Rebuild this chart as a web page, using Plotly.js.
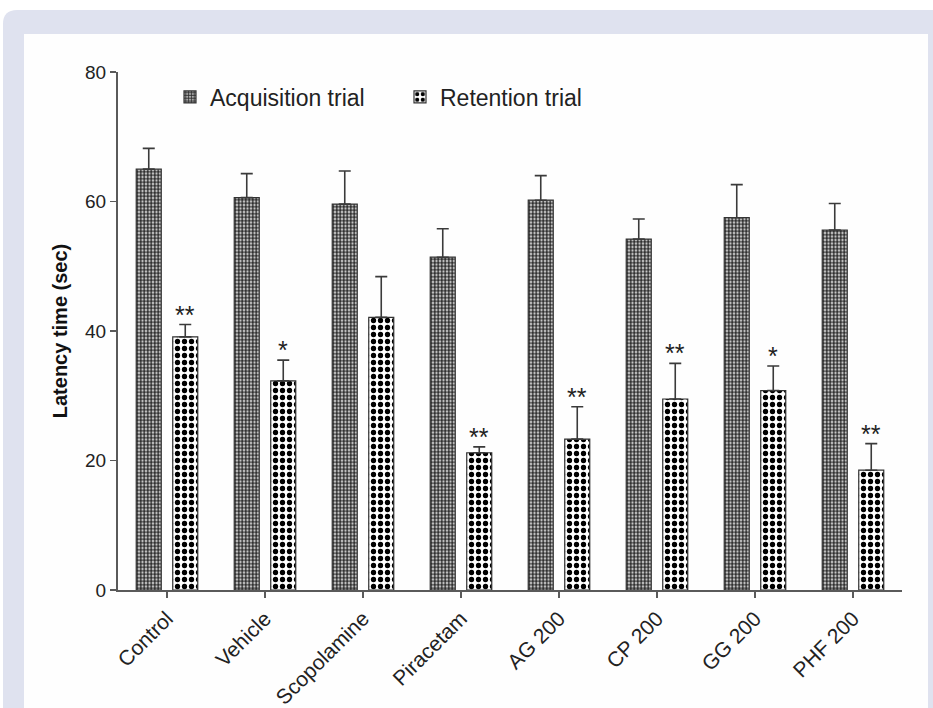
<!DOCTYPE html>
<html>
<head>
<meta charset="utf-8">
<script src="https://cdn.plot.ly/plotly-3.0.1.min.js"></script>
<style>html,body{margin:0;padding:0;background:#fff;}#chart{width:933px;height:708px;}</style>
</head>
<body>
<div id="chart"></div>
<script>
const categories = ["Control", "Vehicle", "Scopolamine", "Piracetam", "AG 200", "CP 200", "GG 200", "PHF 200"];
const acquisition = [65.0, 60.6, 59.6, 51.4, 60.2, 54.2, 57.5, 55.6];
const acquisitionSem = [3.2, 3.7, 5.1, 4.4, 3.8, 3.1, 5.1, 4.1];
const retention = [39.1, 32.3, 42.1, 21.2, 23.3, 29.5, 30.8, 18.5];
const retentionSem = [1.9, 3.2, 6.3, 0.9, 5.0, 5.5, 3.8, 4.1];
const significance = ["**", "*", "", "**", "**", "**", "*", "**"];
const yTicks = [0, 20, 40, 60, 80];

const W = 933, H = 708;
const L = 118, R = 31, T = 72, B = 118;
const pw = W - L - R, ph = H - T - B;
const px = v => (v - L) / pw;
const py = v => (H - B - v) / ph;

const errStyle = {type: 'data', symmetric: false, color: '#3a3a3a', thickness: 1.6, width: 6};

const traces = [
  {
    type: 'bar', name: 'Acquisition trial', x: categories, y: acquisition,
    error_y: Object.assign({array: acquisitionSem, arrayminus: acquisitionSem.map(() => 0)}, errStyle),
    marker: {color: '#ffffff', line: {color: '#333333', width: 1.2},
             pattern: {shape: '.', fgcolor: '#303030', bgcolor: '#ffffff', size: 3.5, solidity: 0.7}}
  },
  {
    type: 'bar', name: 'Retention trial', x: categories, y: retention,
    error_y: Object.assign({array: retentionSem, arrayminus: retentionSem.map(() => 0)}, errStyle),
    marker: {color: '#ffffff', line: {color: '#333333', width: 1.2},
             pattern: {shape: '.', fgcolor: '#000000', bgcolor: '#ffffff', size: 7, solidity: 0.45}}
  }
];

const annotations = significance.map((s, i) => ({
  x: i + 0.186, y: retention[i] + retentionSem[i], xref: 'x', yref: 'y',
  text: s, showarrow: false, yanchor: 'bottom', yshift: -6,
  font: {family: 'Liberation Sans, Arial, sans-serif', size: 25, color: '#222'}
})).filter(a => a.text !== '');

const shapes = [
  {type: 'path', xref: 'paper', yref: 'paper', layer: 'below',
   path: `M ${px(3)} ${py(716)} L ${px(3)} ${py(24)} Q ${px(3)} ${py(10)} ${px(17)} ${py(10)} L ${px(945)} ${py(10)} L ${px(945)} ${py(716)} Z`,
   fillcolor: '#dfe2ef', line: {width: 0}},
  {type: 'rect', xref: 'paper', yref: 'paper', layer: 'below',
   x0: px(24), x1: px(928), y0: py(34), y1: py(716),
   fillcolor: '#fefefe', line: {width: 0}}
];

const layout = {
  width: W, height: H,
  margin: {l: L, r: R, t: T, b: B, pad: 0},
  paper_bgcolor: '#ffffff', plot_bgcolor: 'rgba(0,0,0,0)',
  font: {family: 'Liberation Sans, Arial, sans-serif', color: '#222'},
  barmode: 'group', bargap: 0.255, bargroupgap: 0.315,
  showlegend: true,
  legend: {orientation: 'h', x: px(170), y: py(97), xanchor: 'left', yanchor: 'middle',
           font: {size: 23, color: '#222'}, bgcolor: 'rgba(0,0,0,0)', itemwidth: 30,
           entrywidth: 185, entrywidthmode: 'pixels'},
  xaxis: {type: 'category', range: [-0.5, 7.5], showline: true, linecolor: '#5a5a5a', linewidth: 2,
          ticks: 'outside', ticklen: 6, tickcolor: '#5a5a5a', tickwidth: 1.5, tickangle: -45,
          tickfont: {size: 21, color: '#222'}, showgrid: false, zeroline: false, fixedrange: true},
  yaxis: {range: [0, 80], tickvals: yTicks, ticktext: yTicks.map(String), showline: true,
          linecolor: '#5a5a5a', linewidth: 2, ticks: 'outside', ticklen: 6, tickcolor: '#5a5a5a',
          tickwidth: 1.5, tickfont: {size: 19, color: '#222'}, showgrid: false, zeroline: false,
          title: {text: '<b>Latency time (sec)</b>', font: {size: 20, color: '#111'}, standoff: 12}},
  annotations: annotations,
  shapes: shapes
};

Plotly.newPlot('chart', traces, layout, {displayModeBar: false, staticPlot: true});
</script>
</body>
</html>
